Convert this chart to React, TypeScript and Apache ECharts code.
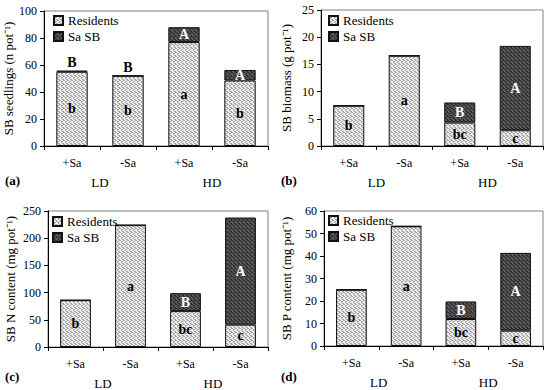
import React, { useEffect, useRef } from "react";
import * as echarts from "echarts";

const categories = ["+Sa", "-Sa", "+Sa", "-Sa"];
const groups = ["LD", "HD"];
const seriesNames = ["Residents", "Sa SB"];

// (a) SB seedlings
const seedlingsResidents = [55, 52, 77, 48.5];
const seedlingsSaSB = [0.8, 0, 11, 7.8];
// (b) SB biomass
const biomassResidents = [7.4, 16.6, 4.3, 2.9];
const biomassSaSB = [0, 0, 3.7, 15.5];
// (c) SB N content
const nResidents = [86, 224, 66, 41];
const nSaSB = [0, 0, 33, 197];
// (d) SB P content
const pResidents = [25, 53.2, 12, 6.8];
const pSaSB = [0, 0, 7.8, 34.6];

const residentLetters = [
  ["b", "b", "a", "b"],
  ["b", "a", "bc", "c"],
  ["b", "a", "bc", "c"],
  ["b", "a", "bc", "c"],
];
const saLetters = [
  ["B", "B", "A", "A"],
  ["", "", "B", "A"],
  ["", "", "B", "A"],
  ["", "", "B", "A"],
];

const yNames = [
  "SB seedlings (n pot⁻¹)",
  "SB biomass (g pot⁻¹)",
  "SB N content (mg pot⁻¹)",
  "SB P content (mg pot⁻¹)",
];
const yMax = [100, 25, 250, 60];
const yStep = [20, 5, 50, 10];
const panelLetters = ["(a)", "(b)", "(c)", "(d)"];

const FONT = "Liberation Serif";

function makePattern(bg: string, dot: string) {
  const c = document.createElement("canvas");
  c.width = 4;
  c.height = 4;
  const ctx = c.getContext("2d")!;
  ctx.fillStyle = bg;
  ctx.fillRect(0, 0, 4, 4);
  ctx.fillStyle = dot;
  const dots = [
    [0, 0], [2, 1], [1, 2], [3, 3], [3, 0], [1, 1], [2, 3],
  ];
  dots.forEach(([x, y]) => ctx.fillRect(x, y, 1, 1));
  return { image: c, repeat: "repeat" } as any;
}

export default function App() {
  const ref = useRef<HTMLDivElement>(null);
  useEffect(() => {
    const chart = echarts.init(ref.current!, null, { renderer: "svg" });
    const lightFill = makePattern("#eeeeee", "#a6a6a6");
    const darkFill = makePattern("#5a5a5a", "#2c2c2c");

    const grids = [
      { left: 44, top: 11, width: 224, height: 135 },
      { left: 321, top: 10, width: 222, height: 136 },
      { left: 48, top: 211, width: 220, height: 136 },
      { left: 324, top: 211, width: 219, height: 135 },
    ];
    const legendPos = [
      { left: 53, top: 14 },
      { left: 328, top: 14 },
      { left: 52, top: 215 },
      { left: 328, top: 214 },
    ];
    const nameGaps = [26, 28, 31, 31];
    const residents = [seedlingsResidents, biomassResidents, nResidents, pResidents];
    const saSB = [seedlingsSaSB, biomassSaSB, nSaSB, pSaSB];

    const xAxis: any[] = [];
    const yAxis: any[] = [];
    const series: any[] = [];
    const legend: any[] = [];
    const graphic: any[] = [];

    grids.forEach((g, i) => {
      xAxis.push({
        type: "category",
        gridIndex: i,
        data: categories,
        axisLine: { lineStyle: { color: "#000", width: 1 } },
        axisTick: { show: true, length: 4, lineStyle: { color: "#000" } },
        axisLabel: { color: "#000", fontFamily: FONT, fontSize: 12, margin: 11 },
      });
      xAxis.push({
        type: "category",
        gridIndex: i,
        data: groups,
        position: "bottom",
        offset: 19,
        axisLine: { show: false },
        axisTick: { show: false },
        axisLabel: { color: "#000", fontFamily: FONT, fontSize: 13, margin: 11 },
      });
      yAxis.push({
        type: "value",
        gridIndex: i,
        min: 0,
        max: yMax[i],
        interval: yStep[i],
        name: yNames[i],
        nameLocation: "middle",
        nameGap: nameGaps[i],
        nameTextStyle: { color: "#000", fontFamily: FONT, fontSize: 13 },
        splitLine: { show: false },
        axisLine: { show: true, lineStyle: { color: "#000", width: 1 } },
        axisTick: { show: true, length: 4, lineStyle: { color: "#000" } },
        axisLabel: { color: "#000", fontFamily: FONT, fontSize: 12, margin: 7 },
      });
      series.push({
        name: seriesNames[0],
        type: "bar",
        stack: "s" + i,
        xAxisIndex: 2 * i,
        yAxisIndex: i,
        barWidth: "56%",
        itemStyle: { color: lightFill, borderColor: "#111", borderWidth: 1 },
        data: residents[i].map((v, k) => ({
          value: v,
          label: {
            show: true,
            position: "inside",
            formatter: residentLetters[i][k],
            color: "#000",
            fontWeight: "bold",
            fontFamily: FONT,
            fontSize: 14,
          },
        })),
      });
      series.push({
        name: seriesNames[1],
        type: "bar",
        stack: "s" + i,
        xAxisIndex: 2 * i,
        yAxisIndex: i,
        barWidth: "56%",
        itemStyle: { color: darkFill, borderColor: "#111", borderWidth: 1 },
        data: saSB[i].map((v, k) => {
          const letter = saLetters[i][k];
          const onTop = i === 0 && k < 2;
          return {
            value: v,
            label: {
              show: letter !== "",
              position: onTop ? "top" : "inside",
              distance: 1,
              formatter: letter,
              color: onTop ? "#000" : "#fff",
              fontWeight: "bold",
              fontFamily: FONT,
              fontSize: 14,
            },
          };
        }),
      });
      legend.push({
        left: legendPos[i].left,
        top: legendPos[i].top,
        padding: 0,
        orient: "vertical",
        data: seriesNames,
        itemWidth: 9,
        itemHeight: 9,
        itemGap: 3,
        icon: "rect",
        selectedMode: false,
        textStyle: { color: "#000", fontFamily: FONT, fontSize: 13 },
      });
      graphic.push({
        type: "text",
        left: i % 2 === 0 ? 5 : 281,
        top: i < 2 ? 174 : 370,
        style: { text: panelLetters[i], font: `bold 13px ${FONT}`, fill: "#000" },
      });
    });

    chart.setOption({
      animation: false,
      grid: grids.map((g) => ({ ...g, show: true, borderColor: "#808080", borderWidth: 1 })),
      xAxis,
      yAxis,
      series,
      legend,
      graphic,
    });
    return () => chart.dispose();
  }, []);
  return (
    <div
      ref={ref}
      style={{ position: "fixed", left: 0, top: 0, width: 550, height: 390, background: "#fff" }}
    />
  );
}
